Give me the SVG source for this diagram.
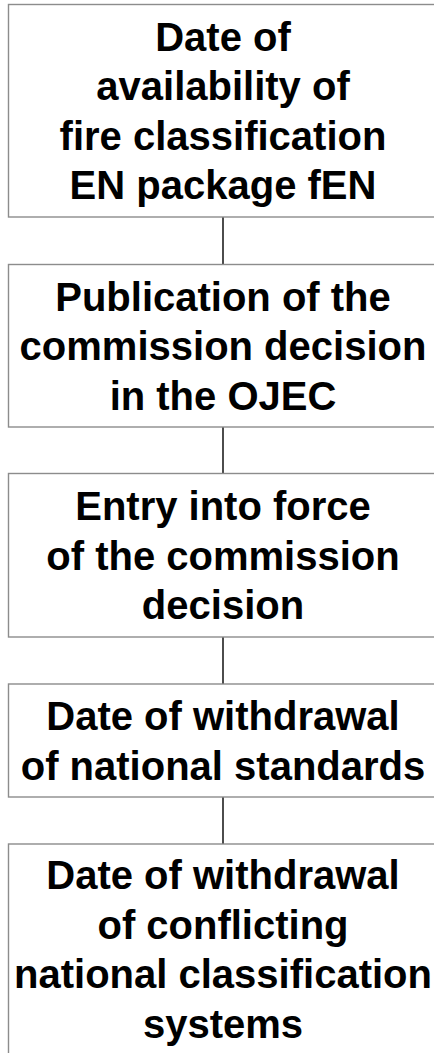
<svg xmlns="http://www.w3.org/2000/svg" width="434" height="1053" viewBox="0 0 434 1053">
<style>
.box{fill:#fff;stroke:#8c8c8c;stroke-width:1.4}
.t{font-family:"Liberation Sans",Arial,sans-serif;font-weight:bold;font-size:40px;fill:#000;text-anchor:middle}
.c{stroke:#000;stroke-width:1.4;fill:none}
</style>
<rect width="434" height="1053" fill="#fff"/>
<g id="connectors">
<line class="c" x1="223" y1="217" x2="223" y2="264.5"/>
<line class="c" x1="223" y1="427" x2="223" y2="473.5"/>
<line class="c" x1="223" y1="637" x2="223" y2="684"/>
<line class="c" x1="223" y1="797" x2="223" y2="844"/>
</g>
<g id="n1">
<rect class="box" x="8.5" y="4.5" width="429" height="212.5"/>
<text class="t" x="223" y="50.5">Date of</text>
<text class="t" x="223" y="100">availability of</text>
<text class="t" x="223" y="149.5">fire classification</text>
<text class="t" x="223" y="199">EN package fEN</text>
</g>
<g id="n2">
<rect class="box" x="8.5" y="264.5" width="429" height="162.5"/>
<text class="t" x="223" y="310.5">Publication of the</text>
<text class="t" x="223" y="360">commission decision</text>
<text class="t" x="223" y="409.5">in the OJEC</text>
</g>
<g id="n3">
<rect class="box" x="8.5" y="473.5" width="429" height="163.5"/>
<text class="t" x="223" y="520">Entry into force</text>
<text class="t" x="223" y="569.5">of the commission</text>
<text class="t" x="223" y="619">decision</text>
</g>
<g id="n4">
<rect class="box" x="8.5" y="684" width="429" height="113"/>
<text class="t" x="223" y="730">Date of withdrawal</text>
<text class="t" x="223" y="779.5">of national standards</text>
</g>
<g id="n5">
<rect class="box" x="8.5" y="844" width="429" height="212.5"/>
<text class="t" x="223" y="889">Date of withdrawal</text>
<text class="t" x="223" y="938.5">of conflicting</text>
<text class="t" x="223" y="988">national classification</text>
<text class="t" x="223" y="1037.5">systems</text>
</g>
</svg>
